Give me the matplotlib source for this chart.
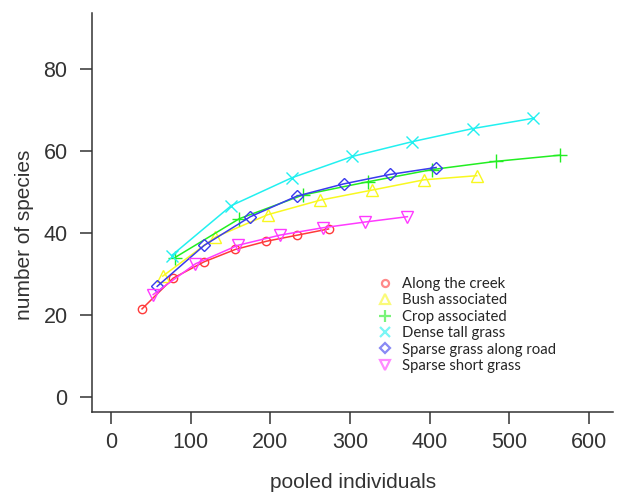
import matplotlib
matplotlib.use("Agg")
import matplotlib.pyplot as plt
from matplotlib.lines import Line2D

# ---- data ----
creek_x = [39, 78, 117, 156, 195, 234, 273]
creek_y = [21.5, 29.0, 33.0, 36.0, 38.0, 39.5, 41.0]

bush_x = [65, 131, 197, 262, 328, 393, 459]
bush_y = [29.5, 39.0, 44.5, 48.0, 50.5, 53.0, 54.0]

crop_x = [80, 161, 241, 322, 403, 483, 563]
crop_y = [34.0, 43.5, 49.3, 52.5, 55.5, 57.5, 59.0]

dense_x = [76, 151, 227, 303, 378, 454, 530]
dense_y = [34.5, 46.7, 53.5, 58.7, 62.3, 65.5, 68.0]

road_x = [58, 117, 175, 233, 292, 350, 408]
road_y = [27.0, 37.0, 44.0, 49.0, 52.0, 54.3, 56.0]

short_x = [53, 106, 159, 212, 266, 319, 372]
short_y = [25.0, 32.5, 37.0, 39.5, 41.3, 42.7, 44.0]

labels = ["Along the creek", "Bush associated", "Crop associated",
          "Dense tall grass", "Sparse grass along road", "Sparse short grass"]
xticks = [0, 100, 200, 300, 400, 500, 600]
yticks = [0, 20, 40, 60, 80]

series = [(creek_x, creek_y), (bush_x, bush_y), (crop_x, crop_y),
          (dense_x, dense_y), (road_x, road_y), (short_x, short_y)]
colors = ["#ff3a3a", "#f8f820", "#22ee22", "#22f0f0", "#3a3aee", "#ff3aff"]
markers = ["o", "^", "+", "x", "D", "v"]
msizes = [6.0, 8.5, 10.0, 8.5, 6.0, 8.5]

W, H = 617, 493
fig = plt.figure(figsize=(W / 100, H / 100), dpi=100)
ax = fig.add_axes([92 / W, 1 - 412 / H, (613 - 92) / W, (412 - 13) / H])

for (xs, ys), c, m, ms in zip(series, colors, markers, msizes):
    ax.plot(xs, ys, color=c, lw=1.1, marker=m, ms=ms, mfc="none",
            mec=c, mew=1.0)

# axis limits from pixel calibration
ax.set_xlim(-23.8, 630)
ax.set_ylim(-3.66, 93.7)

for s in ["top", "right"]:
    ax.spines[s].set_visible(False)
for s in ["left", "bottom"]:
    ax.spines[s].set_color("#333333")
    ax.spines[s].set_linewidth(1.1)

ax.set_xticks(xticks)
ax.set_yticks(yticks)
ax.tick_params(axis="both", direction="out", length=8.6, width=1.1,
               color="#333333", labelcolor="#333333", labelsize=15.5,
               labelfontfamily="Liberation Sans")
ax.tick_params(axis="y", pad=9)
ax.tick_params(axis="x", pad=6)

fig.text(24 / W, 1 - 235 / H, "number of species", rotation=90,
         ha="center", va="center", fontsize=15, color="#333333",
         family="Liberation Sans")
fig.text(353 / W, 1 - 482 / H, "pooled individuals", ha="center",
         va="center", fontsize=15, color="#333333", family="Liberation Sans")

# legend
handles = [Line2D([], [], ls="none", marker=m, ms=ms * 0.85, mfc="none",
                  mec=c, mew=1.6, alpha=0.6)
           for c, m, ms in zip(colors, markers, msizes)]
leg = ax.legend(handles, labels, loc="upper left",
                bbox_to_anchor=(378 / W, 1 - 277 / H),
                bbox_transform=fig.transFigure, frameon=False,
                prop={"family": "Lato", "size": 10.7},
                labelspacing=0.16, handlelength=1.0, handletextpad=0.6,
                borderpad=0, borderaxespad=0)
for t in leg.get_texts():
    t.set_color("#262626")

fig.savefig("out.png", dpi=100)
